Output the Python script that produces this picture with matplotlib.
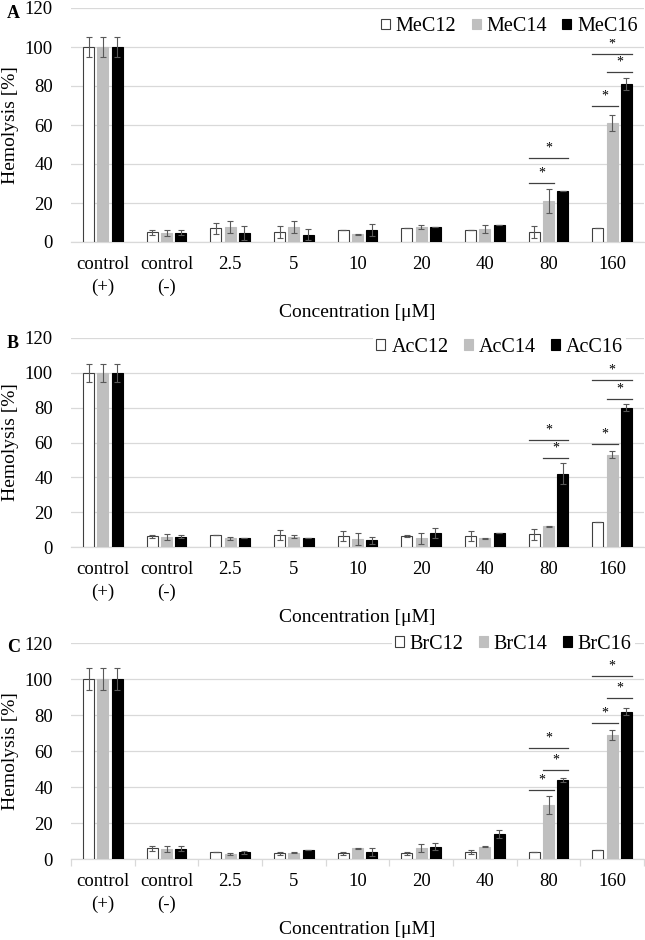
import matplotlib
matplotlib.use("Agg")
import matplotlib.pyplot as plt
import numpy as np

plt.rcParams['font.family'] = ['Liberation Serif', 'DejaVu Serif']

categories = ['control\n(+)', 'control\n(-)', '2.5', '5', '10', '20', '40', '80', '160']

# Panel A
MeC12 = [100, 5, 7, 5, 6.3, 7, 6.3, 5, 7]
MeC12_err = [5, 1.3, 3, 3, 0, 0, 0, 3, 0]
MeC14 = [100, 4.6, 7.7, 7.7, 3.9, 7.7, 6.8, 21, 61]
MeC14_err = [5, 1.5, 3.2, 3.2, 0.3, 1, 2, 6, 4]
MeC16 = [100, 4.8, 4.6, 3.8, 6, 7.7, 8.7, 26, 81]
MeC16_err = [5, 1.2, 3.4, 3, 3, 0, 0, 0, 3]
sig_A = [(7, 0, 1, 30.4), (7, 0, 2, 43), (8, 0, 1, 69.7), (8, 1, 2, 87), (8, 0, 2, 96.6)]

# Panel B
AcC12 = [100, 6.1, 7, 7, 6.3, 6.3, 6.3, 7.3, 14.5]
AcC12_err = [5, 1, 0, 3, 3, 0.5, 3, 3, 0]
AcC14 = [100, 5.7, 5, 6, 4.8, 5, 5, 12, 53]
AcC14_err = [5, 1.5, 1, 1, 3.5, 3, 0.3, 0.3, 2]
AcC16 = [100, 6, 5, 5, 4, 8, 8, 42, 80]
AcC16_err = [5, 1, 0, 0, 2, 3, 0, 6, 2]
sig_B = [(7, 0, 2, 61.5), (7, 1, 2, 51), (8, 0, 1, 59), (8, 1, 2, 85), (8, 0, 2, 95.6)]

# Panel C
BrC12 = [100, 5.9, 3.7, 3.1, 3.1, 3.1, 3.9, 3.9, 5.2]
BrC12_err = [6, 1.5, 0, 0.7, 1, 1, 1, 0, 0]
BrC14 = [100, 5.6, 2.8, 3.5, 5.9, 5.9, 6.9, 29.8, 68.9]
BrC14_err = [6, 1.5, 0.3, 0.3, 0.3, 2.2, 0.3, 5, 3]
BrC16 = [100, 5.7, 3.7, 5, 3.9, 6.9, 13.9, 43.9, 81.9]
BrC16_err = [6, 1.5, 1, 0, 2, 2, 2.3, 1, 2]
sig_C = [(7, 0, 1, 38.1), (7, 1, 2, 49.6), (7, 0, 2, 61.5), (8, 0, 1, 75.4), (8, 1, 2, 89.3), (8, 0, 2, 101.5)]

panels = [
    dict(letter='A', names=['MeC12', 'MeC14', 'MeC16'], vals=[MeC12, MeC14, MeC16],
         errs=[MeC12_err, MeC14_err, MeC16_err], sig=sig_A,
         rect=[71/645, 1-242/940, 573/645, 234/940], leg=(0.995, 0.92), xticks=False),
    dict(letter='B', names=['AcC12', 'AcC14', 'AcC16'], vals=[AcC12, AcC14, AcC16],
         errs=[AcC12_err, AcC14_err, AcC16_err], sig=sig_B,
         rect=[71/645, 1-547/940, 573/645, 209/940], leg=(0.969, 0.955), xticks=False),
    dict(letter='C', names=['BrC12', 'BrC14', 'BrC16'], vals=[BrC12, BrC14, BrC16],
         errs=[BrC12_err, BrC14_err, BrC16_err], sig=sig_C,
         rect=[71/645, 1-859/940, 573/645, 216/940], leg=(0.984, 0.995), xticks=True),
]

colors = ['white', '#bfbfbf', 'black']
edges = ['#404040', '#bfbfbf', 'black']
pitch = 0.225
width = 0.175
grid_c = '#d9d9d9'
fs = 13.5

fig = plt.figure(figsize=(6.45, 9.4), dpi=100)
x = np.arange(len(categories))

for p in panels:
    ax = fig.add_axes(p['rect'])
    for i in range(3):
        ax.bar(x + (i - 1) * pitch, p['vals'][i], width=width, color=colors[i],
               edgecolor=edges[i], linewidth=0.8, label=p['names'][i], zorder=3)
        ax.errorbar(x + (i - 1) * pitch, p['vals'][i], yerr=p['errs'][i], fmt='none',
                    ecolor='#595959', elinewidth=0.8, capsize=2.2, capthick=0.8, zorder=4)
    for (c, a, b, yv) in p['sig']:
        x0 = c + (a - 1) * pitch - width / 2
        x1 = c + (b - 1) * pitch + width / 2
        ax.plot([x0, x1], [yv, yv], color='#404040', lw=0.9, zorder=5, clip_on=False)
        ax.annotate('*', xy=((x0 + x1) / 2, yv), xytext=(0, 2.5), textcoords='offset points',
                    ha='center', va='bottom', fontsize=10, zorder=5, annotation_clip=False)
    ax.set_xlim(-0.5, len(categories) - 0.5)
    ax.set_ylim(0, 120)
    ax.set_yticks(np.arange(0, 121, 20))
    ax.yaxis.grid(True, color=grid_c, lw=0.9, zorder=0)
    ax.set_axisbelow(True)
    for s in ['top', 'right', 'left']:
        ax.spines[s].set_visible(False)
    ax.spines['bottom'].set_color(grid_c)
    ax.spines['bottom'].set_linewidth(0.9)
    ax.set_xticks(x)
    ax.set_xticklabels(categories, fontsize=fs)
    for lab in ax.get_xticklabels():
        lab.set_linespacing(1.45)
    ax.tick_params(axis='x', length=0, pad=10)
    ax.tick_params(axis='y', length=0, pad=13, labelsize=fs)
    if p['xticks']:
        ax.set_xticks(np.arange(-0.5, len(categories), 1), minor=True)
        ax.tick_params(axis='x', which='minor', length=5, color=grid_c, width=0.9)
    ax.set_xlabel('Concentration [\u03bcM]', fontsize=14, labelpad=6)
    ax.set_ylabel('Hemolysis [%]', fontsize=14)
    ax.yaxis.set_label_coords(-0.09, 0.5)
    leg = ax.legend(loc='center right', bbox_to_anchor=p['leg'], ncol=3,
                    fontsize=14.5, frameon=True, facecolor='white', edgecolor='none',
                    framealpha=1, handlelength=0.45, handleheight=0.45,
                    handletextpad=0.3, columnspacing=0.75, borderpad=0.15,
                    borderaxespad=0.0)
    leg.set_zorder(6)
    top_px = (1 - (p['rect'][1] + p['rect'][3])) * 940
    fig.text(7/645, 1 - (top_px + 5) / 940, p['letter'], fontsize=13, fontweight='bold',
             ha='left', va='center')

fig.savefig('out.png', dpi=100)
